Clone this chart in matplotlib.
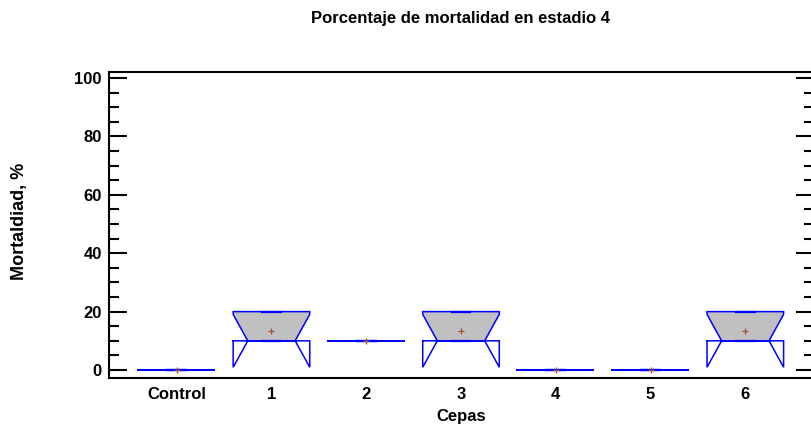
import numpy as np
import matplotlib
matplotlib.use("Agg")
import matplotlib.pyplot as plt
from matplotlib.patches import Polygon
from matplotlib.ticker import MultipleLocator

plt.rcParams['font.family'] = ['Liberation Sans', 'DejaVu Sans']

title = "Porcentaje de mortalidad en estadio 4"
xlabel = "Cepas"
ylabel = "Mortaldiad, %"
categories = ["Control", "1", "2", "3", "4", "5", "6"]
rep_control = [0, 0, 0]
rep_1 = [10, 10, 20]
rep_2 = [10, 10, 10]
rep_3 = [10, 10, 20]
rep_4 = [0, 0, 0]
rep_5 = [0, 0, 0]
rep_6 = [10, 10, 20]
groups = [rep_control, rep_1, rep_2, rep_3, rep_4, rep_5, rep_6]
yticks = [0, 20, 40, 60, 80, 100]

BLUE = "#0000FF"
GRAY = "#C0C0C0"
MEAN_C = "#A0522D"
FS = 12

fig = plt.figure(figsize=(8.12, 4.26), dpi=100)
ax = fig.add_axes([109.3 / 812, (426 - 378.3) / 426, (814.5 - 109.3) / 812, (378.3 - 71.7) / 426])

w = 0.404   # half width of box
wn = 0.25   # half width at notch
for i, vals in enumerate(groups):
    v = np.asarray(vals, dtype=float)
    n = len(v)
    q1, med, q3 = np.percentile(v, [25, 50, 75], method="weibull")
    mean = v.mean()
    c = 1.57 * (q3 - q1) / np.sqrt(n)
    lo, hi = med - c, med + c
    x = i
    if q3 > q1:
        lo_f, hi_f = max(lo, q1), min(hi, q3)
        fill = [(x - w, q1), (x - w, lo_f), (x - wn, med), (x - w, hi_f), (x - w, q3),
                (x + w, q3), (x + w, hi_f), (x + wn, med), (x + w, lo_f), (x + w, q1)]
        ax.add_patch(Polygon(fill, closed=True, facecolor=GRAY, edgecolor="none", zorder=2))
    outline = [(x - w, q1), (x - w, lo), (x - wn, med), (x - w, hi), (x - w, q3),
               (x + w, q3), (x + w, hi), (x + wn, med), (x + w, lo), (x + w, q1), (x - w, q1)]
    ox, oy = zip(*outline)
    ax.plot(ox, oy, color=BLUE, lw=1.1, zorder=3, solid_joinstyle="miter")
    ax.plot([x - wn, x + wn], [med, med], color=BLUE, lw=1.3, zorder=3)
    for val in (v.min(), v.max()):
        ax.plot([x - 0.1, x + 0.1], [val, val], color=BLUE, lw=1.6, zorder=4)
    ax.plot([x], [mean], marker="+", color=MEAN_C, ms=5, mew=0.9, zorder=5)

ax.set_xlim(-0.711, 6.73)
ax.set_ylim(-2.84, 102.2)
ax.set_xticks(range(len(categories)))
ax.set_xticklabels(categories, fontsize=FS, fontweight="bold")
ax.set_yticks(yticks)
ax.set_yticklabels([str(t) for t in yticks], fontsize=FS, fontweight="bold")
ax.yaxis.set_minor_locator(MultipleLocator(5))
ax.tick_params(axis="x", length=0, pad=6)
ax.tick_params(axis="y", which="major", direction="in", length=13, width=1.5, pad=5.5,
               left=True, right=True)
ax.tick_params(axis="y", which="minor", direction="in", length=7, width=1.5,
               left=True, right=True)
for s in ax.spines.values():
    s.set_linewidth(1.5)

fig.text(461 / 812, 1 - 19 / 426, title, ha="center", va="center", fontsize=FS, fontweight="bold")
fig.text(461 / 812, 1 - 416 / 426, xlabel, ha="center", va="center", fontsize=FS, fontweight="bold")
fig.text(20 / 812, 1 - 221 / 426, ylabel, ha="center", va="center", rotation=90,
         fontsize=13, fontweight="bold")

fig.savefig("out.png", dpi=100)
